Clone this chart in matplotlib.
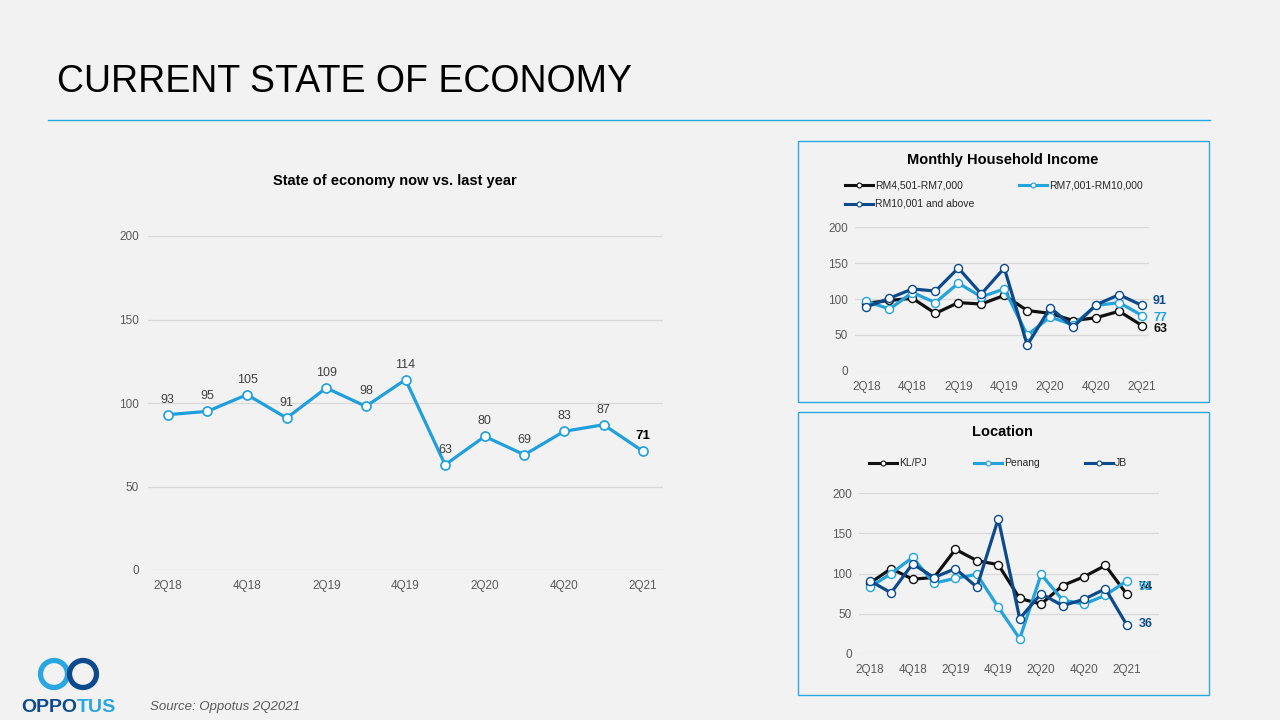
import matplotlib
matplotlib.use("Agg")
import matplotlib.pyplot as plt
from matplotlib.patches import Rectangle, Circle
from matplotlib.lines import Line2D

plt.rcParams['font.family'] = ['Liberation Sans', 'DejaVu Sans']

# ---------------- data ----------------
quarters = ["2Q18", "3Q18", "4Q18", "1Q19", "2Q19", "3Q19", "4Q19",
            "1Q20", "2Q20", "3Q20", "4Q20", "1Q21", "2Q21"]
economy = [93, 95, 105, 91, 109, 98, 114, 63, 80, 69, 83, 87, 71]

inc_names = ["RM4,501-RM7,000", "RM7,001-RM10,000", "RM10,001 and above"]
inc_low = [94, 98, 101, 80, 95, 93, 105, 84, 80, 70, 74, 83, 63]
inc_mid = [97, 86, 109, 95, 122, 103, 114, 50, 75, 64, 91, 95, 77]
inc_high = [89, 101, 114, 111, 143, 107, 143, 36, 88, 61, 92, 106, 91]

loc_names = ["KL/PJ", "Penang", "JB"]
loc_klpj = [88, 106, 93, 95, 130, 116, 111, 69, 62, 85, 96, 110, 74]
loc_penang = [83, 100, 120, 88, 94, 99, 58, 19, 99, 67, 62, 73, 91]
loc_jb = [91, 76, 112, 95, 106, 83, 168, 44, 75, 60, 68, 81, 36]

yticks = [0, 50, 100, 150, 200]

# ---------------- style ----------------
BG = '#f2f2f2'
BLACK = '#111111'
LIGHT = '#22a3dc'
DARK = '#0d4a8c'
MAIN = '#1f9fdb'
GRID = '#d9d9d9'
TICK = '#595959'
BORDER = '#29a9e0'

W, H = 1280, 720
fig = plt.figure(figsize=(12.8, 7.2), dpi=100, facecolor=BG)

# overlay for decorations (pixel coordinates)
ov = fig.add_axes([0, 0, 1, 1])
ov.set_xlim(0, W)
ov.set_ylim(H, 0)
ov.axis('off')
ov.patch.set_alpha(0)

ov.text(57, 82, "CURRENT STATE OF ECONOMY", fontsize=27, color='black',
        ha='left', va='center')
ov.plot([48, 1210], [120, 120], color='#1fa8e3', lw=1.0)

ov.add_patch(Rectangle((797.5, 140.5), 411.5, 261, fill=False, ec=BORDER, lw=1))
ov.add_patch(Rectangle((797.5, 411.5), 411.5, 283, fill=False, ec=BORDER, lw=1))

# logo
ov.add_patch(Circle((54, 674), 13.5, fill=False, ec='#2aa6e0', lw=3.8))
ov.add_patch(Circle((83, 674), 13.5, fill=False, ec=DARK, lw=3.8))
ov.text(21, 712, "OPPO", fontsize=14, fontweight='heavy', color=DARK,
        ha='left', va='baseline')
ov.text(77, 712, "TUS", fontsize=14, fontweight='heavy', color='#2aa6e0',
        ha='left', va='baseline')
ov.text(150, 707, "Source: Oppotus 2Q2021", fontsize=9.5, style='italic',
        color=TICK, ha='left', va='center')


def px_axes(l, t, r, b):
    return fig.add_axes([l / W, 1 - b / H, (r - l) / W, (b - t) / H])


def style_axes(ax, xmax, ypad):
    ax.set_facecolor('none')
    ax.set_ylim(0, 200)
    ax.set_xlim(-0.5, xmax)
    ax.set_yticks(yticks)
    ax.set_xticks(range(0, len(quarters), 2))
    ax.set_xticklabels(quarters[::2])
    for s in ax.spines.values():
        s.set_visible(False)
    ax.grid(axis='y', color=GRID, lw=0.9)
    ax.set_axisbelow(True)
    ax.tick_params(length=0, labelsize=8.5, labelcolor=TICK)
    ax.tick_params(axis='y', pad=ypad)
    ax.tick_params(axis='x', pad=7)


# ---------------- main chart ----------------
ax = px_axes(148, 236, 663, 570)
style_axes(ax, 12.5, 6.5)
x = list(range(len(quarters)))
ax.plot(x, economy, color=MAIN, lw=2.3, marker='o', ms=6.5, mfc='white',
        mec=MAIN, mew=1.2, zorder=3)
for i, v in enumerate(economy):
    last = i == len(economy) - 1
    ax.annotate(str(v), (i, v), xytext=(0, 9), textcoords='offset pixels',
                ha='center', va='bottom', fontsize=9.5 if last else 9,
                fontweight='bold' if last else 'normal',
                color='black' if last else '#404040', zorder=4)
fig.text(395 / W, 1 - 181 / H, "State of economy now vs. last year",
         fontsize=10.5, fontweight='bold', ha='center', va='center')


def legend_entry(xp, yp, color, label):
    ov.add_line(Line2D([xp, xp + 28], [yp, yp], color=color, lw=2.2))
    ov.plot([xp + 14], [yp], marker='o', ms=3.5, mfc='white', mec=color,
            mew=0.8)
    ov.text(xp + 30, yp, label, fontsize=7.5, color='#262626', ha='left',
            va='center')


# ---------------- household income ----------------
ax2 = px_axes(855, 227, 1149, 371)
style_axes(ax2, 12.3, 5)
inc_series = [(inc_low, BLACK), (inc_mid, LIGHT), (inc_high, DARK)]
for vals, c in inc_series:
    ax2.plot(x, vals, color=c, lw=2.3, marker='o', ms=5.8, mfc='white',
             mec=c, mew=1.0, zorder=3)
ov.text(1003, 160, "Monthly Household Income", fontsize=10.5, fontweight='bold',
        ha='center', va='center')
legend_entry(845, 185, BLACK, inc_names[0])
legend_entry(1019, 185, LIGHT, inc_names[1])
legend_entry(845, 204, DARK, inc_names[2])
for (vals, c), dy in zip(inc_series, [-3, -2, 4]):
    ax2.annotate(str(vals[-1]), (12, vals[-1]), xytext=(11, dy),
                 textcoords='offset pixels', ha='left', va='center',
                 fontsize=9, fontweight='bold', color=c)

# ---------------- location ----------------
ax3 = px_axes(859, 493, 1159, 654)
style_axes(ax3, 13.5, 5)
loc_series = [(loc_klpj, BLACK), (loc_penang, LIGHT), (loc_jb, DARK)]
for vals, c in loc_series:
    ax3.plot(x, vals, color=c, lw=2.3, marker='o', ms=5.8, mfc='white',
             mec=c, mew=1.0, zorder=3)
ov.text(1002, 432, "Location", fontsize=10.5, fontweight='bold',
        ha='center', va='center')
legend_entry(869, 463, BLACK, loc_names[0])
legend_entry(974, 463, LIGHT, loc_names[1])
legend_entry(1085, 463, DARK, loc_names[2])
for (vals, c), dy in zip(loc_series, [7, -6, 1]):
    ax3.annotate(str(vals[-1]), (12, vals[-1]), xytext=(12, dy),
                 textcoords='offset pixels', ha='left', va='center',
                 fontsize=9, fontweight='bold', color=c)

fig.savefig("out.png", dpi=100, facecolor=BG)
